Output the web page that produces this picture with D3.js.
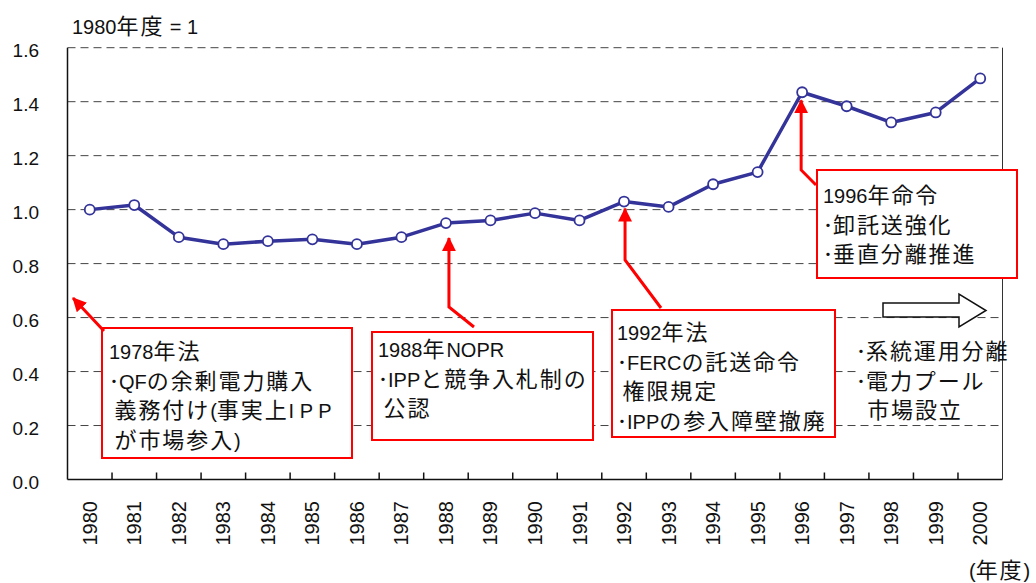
<!DOCTYPE html>
<html lang="ja">
<head>
<meta charset="UTF-8">
<title>1980年度 = 1</title>
<script src="https://d3js.org/d3.v7.min.js"></script>
<style>
    body { margin: 0; background: #fff; }
    svg { display: block; }
    text {
        font-family: "Liberation Sans", Arial, "Noto Sans CJK JP", sans-serif;
        font-size: 20px;
        fill: #111;
        white-space: pre;
    }
    .ytick { font-size: 19px; }
    .cjk { font-size: 22px; letter-spacing: 1.9px; }
</style>
</head>
<body>
<svg id="chart"></svg>
<script>
    // years and index values (1980 = 1)
    const years = ["1980", "1981", "1982", "1983", "1984", "1985", "1986", "1987", "1988", "1989",
        "1990", "1991", "1992", "1993", "1994", "1995", "1996", "1997", "1998", "1999", "2000"];
    const values = [1.00, 1.017, 0.898, 0.872, 0.883, 0.89, 0.872, 0.898, 0.95, 0.96,
        0.987, 0.96, 1.03, 1.01, 1.094, 1.139, 1.435, 1.383, 1.323, 1.36, 1.486];
    const yTicks = [0, 0.2, 0.4, 0.6, 0.8, 1.0, 1.2, 1.4, 1.6];

    // annotation texts
    const note1978 = ["1978年法", "･QFの余剰電力購入", " 義務付け(事実上I P P", " が市場参入)"];
    const note1988 = ["1988年NOPR", "･IPPと競争入札制の", " 公認"];
    const note1992 = ["1992年法", "･FERCの託送命令", " 権限規定", "･IPPの参入障壁撤廃"];
    const note1996 = ["1996年命令", "･卸託送強化", "･垂直分離推進"];
    const noteAfter = ["･系統運用分離", "･電力プール", "  市場設立"];

    const width = 1036, height = 583;
    const plotL = 67.5, plotR = 1002.5, plotT = 47.7, plotB = 479.5;

    const svg = d3.select("#chart").attr("width", width).attr("height", height);

    const x = d3.scaleBand().domain(years).range([plotL, plotR]).padding(0);
    const y = d3.scaleLinear().domain([0, 1.6]).range([plotB, plotT]);

    // mixed text: Japanese runs drawn a bit wider, like the original
    function mixed(textSel, str) {
        str.split(/([\u3000-\u9fff\uff01-\uff5e]+)/).filter(s => s.length).forEach(part => {
            const t = textSel.append("tspan").text(part);
            if (/[\u3000-\u9fff\uff01-\uff5e]/.test(part)) t.attr("class", "cjk");
        });
    }

    // dashed grid
    svg.append("g")
        .selectAll("line")
        .data(yTicks.filter(d => d > 0))
        .enter().append("line")
        .attr("x1", plotL).attr("x2", plotR)
        .attr("y1", d => y(d)).attr("y2", d => y(d))
        .attr("stroke", "#444")
        .attr("stroke-width", 1)
        .attr("stroke-dasharray", "8,5");

    // y labels
    svg.append("g")
        .selectAll("text")
        .data(yTicks)
        .enter().append("text")
        .attr("class", "ytick")
        .attr("x", 39)
        .attr("y", d => y(d) + 3)
        .attr("text-anchor", "end")
        .attr("dy", "0.35em")
        .text(d => d.toFixed(1));

    // x axis with ticks at category boundaries, pointing up
    const bounds = years.slice(1).map(d => x(d));
    svg.append("g")
        .selectAll("line")
        .data(bounds)
        .enter().append("line")
        .attr("x1", d => d).attr("x2", d => d)
        .attr("y1", plotB).attr("y2", plotB - 7)
        .attr("stroke", "#111").attr("stroke-width", 1.5);

    svg.append("line")
        .attr("x1", plotL).attr("x2", plotR).attr("y1", plotB).attr("y2", plotB)
        .attr("stroke", "#111").attr("stroke-width", 1.5);
    svg.append("line")
        .attr("x1", plotL).attr("x2", plotL).attr("y1", plotT).attr("y2", plotB)
        .attr("stroke", "#111").attr("stroke-width", 1.5);
    svg.append("line")
        .attr("x1", plotR).attr("x2", plotR).attr("y1", plotT).attr("y2", plotB)
        .attr("stroke", "#333").attr("stroke-width", 1);

    // x labels, rotated
    svg.append("g")
        .selectAll("text")
        .data(years)
        .enter().append("text")
        .attr("transform", d => `translate(${x(d) + x.bandwidth() / 2 + 7},501) rotate(-90)`)
        .attr("text-anchor", "end")
        .text(d => d);

    mixed(svg.append("text").attr("x", 72).attr("y", 34), "1980年度 = 1");
    mixed(svg.append("text").attr("x", 969).attr("y", 578), "(年度)");

    // red arrow marker
    svg.append("defs").append("marker")
        .attr("id", "redhead")
        .attr("markerUnits", "userSpaceOnUse")
        .attr("viewBox", "0 0 14 14")
        .attr("refX", 13).attr("refY", 7)
        .attr("markerWidth", 14).attr("markerHeight", 14)
        .attr("orient", "auto")
        .append("path")
        .attr("d", "M0,0 L14,7 L0,14 Z")
        .attr("fill", "#ff0000");

    // annotation boxes
    function noteBox(lines, bx, by, bw, bh, tx, ty0) {
        const g = svg.append("g");
        g.append("rect")
            .attr("x", bx).attr("y", by).attr("width", bw).attr("height", bh)
            .attr("fill", "#fff").attr("stroke", "#ff0000").attr("stroke-width", 2);
        lines.forEach((line, i) => {
            mixed(g.append("text").attr("x", tx).attr("y", ty0 + i * 29.5), line);
        });
    }

    function redArrow(points) {
        svg.append("path")
            .attr("d", d3.line()(points))
            .attr("fill", "none")
            .attr("stroke", "#ff0000")
            .attr("stroke-width", 3)
            .attr("marker-end", "url(#redhead)");
    }

    noteBox(note1978, 102, 328, 250, 130, 109, 359);
    redArrow([[104, 331], [73, 298]]);

    noteBox(note1988, 372, 332, 221, 108, 378, 357);
    const x88 = x("1988") + x.bandwidth() / 2 + 3;
    redArrow([[474, 327], [x88, 307], [x88, y(values[8]) + 15]]);

    noteBox(note1992, 612, 310, 223, 127, 617, 340);
    const x92 = x("1992") + x.bandwidth() / 2 + 1;
    redArrow([[661, 308], [x92, 260], [x92, y(values[12]) + 7]]);

    noteBox(note1996, 817, 170, 200, 108, 823, 203);
    const x96 = x("1996") + x.bandwidth() / 2 - 1;
    redArrow([[816, 185], [x96, 170], [x96, y(values[16]) + 8]]);

    // trailing reform text with hollow arrow
    svg.append("rect")
        .attr("x", 858).attr("y", 336).attr("width", 132).attr("height", 84)
        .attr("fill", "#fff");
    noteAfter.forEach((line, i) => {
        mixed(svg.append("text").attr("x", 856).attr("y", 359 + i * 29.5), line);
    });
    svg.append("path")
        .attr("d", "M883,303 L959,303 L959,294 L986,310.5 L959,327 L959,317 L883,317 Z")
        .attr("fill", "#fff").attr("stroke", "#111").attr("stroke-width", 1.5);

    // index line
    const pts = years.map((d, i) => [x(d) + x.bandwidth() / 2, y(values[i])]);
    svg.append("path")
        .attr("d", d3.line()(pts))
        .attr("fill", "none")
        .attr("stroke", "#333399")
        .attr("stroke-width", 3.5)
        .attr("stroke-linejoin", "round");
    svg.append("g")
        .selectAll("circle")
        .data(pts)
        .enter().append("circle")
        .attr("cx", d => d[0]).attr("cy", d => d[1])
        .attr("r", 5)
        .attr("fill", "#fff")
        .attr("stroke", "#333399")
        .attr("stroke-width", 1.8);
</script>
</body>
</html>
